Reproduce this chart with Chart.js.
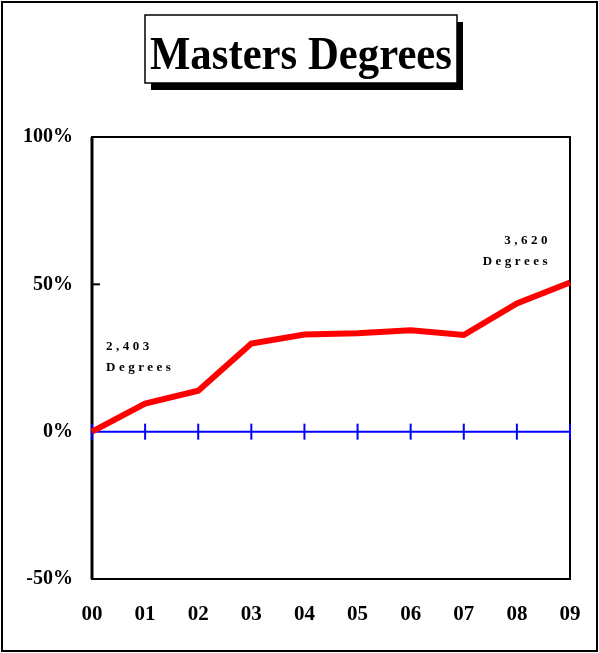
<!DOCTYPE html>
<html>
<head>
<meta charset="utf-8">
<script src="https://cdn.jsdelivr.net/npm/chart.js@4.4.1/dist/chart.umd.min.js"></script>
<style>
  html, body { margin: 0; padding: 0; background: #fff; }
  #wrap { width: 599px; height: 653px; position: relative; }
</style>
</head>
<body>
<div id="wrap"><canvas id="grafico"></canvas></div>
<script>
// dados do grafico
const anos = ['00', '01', '02', '03', '04', '05', '06', '07', '08', '09'];
const mestrados = [0, 9.5, 13.9, 29.9, 33.0, 33.4, 34.4, 32.8, 43.5, 50.6];
const linhaZero = [0, 0, 0, 0, 0, 0, 0, 0, 0, 0];
const escalaY = [-50, 0, 50, 100];
const tituloTexto = 'Masters Degrees';
const rotuloInicio = ['2,403', 'Degrees'];
const rotuloFim = ['3,620', 'Degrees'];

const serif = '"Liberation Serif", "Times New Roman", serif';

const desenhoExtra = {
    id: 'desenhoExtra',
    beforeDraw(chart) {
        const ctx = chart.ctx;
        ctx.save();
        ctx.fillStyle = '#fff';
        ctx.fillRect(0, 0, chart.width, chart.height);
        ctx.restore();
    },
    beforeDatasetsDraw(chart) {
        const ctx = chart.ctx;
        const a = chart.chartArea;
        const ys = chart.scales.y;
        ctx.save();

        // moldura da area do grafico
        ctx.strokeStyle = '#000';
        ctx.lineWidth = 2;
        ctx.strokeRect(a.left, a.top, a.right - a.left, a.bottom - a.top);
        ctx.lineWidth = 3;
        ctx.beginPath();
        ctx.moveTo(a.left, a.top);
        ctx.lineTo(a.left, a.bottom);
        ctx.stroke();

        // marcas internas do eixo y
        ctx.lineWidth = 2;
        escalaY.forEach(v => {
            if (v <= 0) return;
            const y = ys.getPixelForValue(v);
            ctx.beginPath();
            ctx.moveTo(a.left, y);
            ctx.lineTo(a.left + 8, y);
            ctx.stroke();
        });
        ctx.restore();
    },
    afterDraw(chart) {
        const ctx = chart.ctx;
        const xs = chart.scales.x;
        const ys = chart.scales.y;
        ctx.save();

        // rotulos de graus
        ctx.fillStyle = '#000';
        ctx.font = 'bold 13px ' + serif;
        ctx.letterSpacing = '3.5px';
        ctx.textBaseline = 'middle';
        const x0 = xs.getPixelForValue(0);
        const y0 = ys.getPixelForValue(mestrados[0]);
        ctx.textAlign = 'left';
        ctx.fillText(rotuloInicio[0], x0 + 14, y0 - 85);
        ctx.fillText(rotuloInicio[1], x0 + 14, y0 - 64);
        const n = mestrados.length - 1;
        const x9 = xs.getPixelForValue(n);
        const y9 = ys.getPixelForValue(mestrados[n]);
        ctx.textAlign = 'right';
        ctx.fillText(rotuloFim[0], x9 - 19, y9 - 42);
        ctx.fillText(rotuloFim[1], x9 - 19, y9 - 21);
        ctx.letterSpacing = '0px';

        // caixa do titulo com sombra
        const bx = 145, by = 15, bw = 312, bh = 68;
        ctx.fillStyle = '#000';
        ctx.fillRect(bx + 6, by + 7, bw, bh);
        ctx.fillStyle = '#fff';
        ctx.fillRect(bx, by, bw, bh);
        ctx.lineWidth = 1.5;
        ctx.strokeStyle = '#000';
        ctx.strokeRect(bx, by, bw, bh);
        ctx.fillStyle = '#000';
        ctx.font = 'bold 47px ' + serif;
        ctx.textAlign = 'center';
        ctx.textBaseline = 'alphabetic';
        const largura = ctx.measureText(tituloTexto).width;
        const escala = Math.min(1, 302 / largura);
        ctx.translate(bx + bw / 2, 69);
        ctx.scale(escala, 1);
        ctx.fillText(tituloTexto, 0, 0);
        ctx.setTransform(chart.currentDevicePixelRatio, 0, 0, chart.currentDevicePixelRatio, 0, 0);

        // borda externa
        ctx.lineWidth = 2;
        ctx.strokeRect(2, 2, chart.width - 4, chart.height - 4);
        ctx.restore();
    }
};

new Chart(document.getElementById('grafico'), {
    type: 'line',
    data: {
        labels: anos,
        datasets: [
            {
                data: mestrados,
                borderColor: '#ff0000',
                borderWidth: 6,
                pointRadius: 0,
                tension: 0,
                clip: false,
                borderJoinStyle: 'miter'
            },
            {
                data: linhaZero,
                borderColor: '#0000ff',
                borderWidth: 2,
                pointStyle: 'line',
                rotation: 90,
                pointRadius: 8,
                pointBorderColor: '#0000ff',
                pointBorderWidth: 2,
                tension: 0,
                clip: false
            }
        ]
    },
    options: {
        responsive: true,
        maintainAspectRatio: false,
        animation: false,
        events: [],
        layout: { autoPadding: false, padding: { left: 0, top: 137, right: 29, bottom: 0 } },
        plugins: {
            legend: { display: false },
            tooltip: { enabled: false }
        },
        scales: {
            x: {
                offset: false,
                grid: { display: false, drawTicks: false },
                border: { display: false },
                afterFit(scale) {
                    scale.height = 74;
                    scale.paddingLeft = 0;
                    scale.paddingRight = 0;
                },
                ticks: {
                    color: '#000',
                    padding: 23,
                    maxRotation: 0,
                    autoSkip: false,
                    font: { family: serif, size: 21, weight: 'bold' }
                }
            },
            y: {
                min: -50,
                max: 100,
                grid: { display: false, drawTicks: false },
                border: { display: false },
                afterFit(scale) {
                    scale.width = 92;
                    scale.paddingTop = 0;
                    scale.paddingBottom = 0;
                },
                afterBuildTicks(scale) { scale.ticks = escalaY.map(v => ({ value: v })); },
                ticks: {
                    color: '#000',
                    padding: 19,
                    callback: v => v + '%',
                    font: { family: serif, size: 20, weight: 'bold' }
                }
            }
        }
    },
    plugins: [desenhoExtra]
});
</script>
</body>
</html>
